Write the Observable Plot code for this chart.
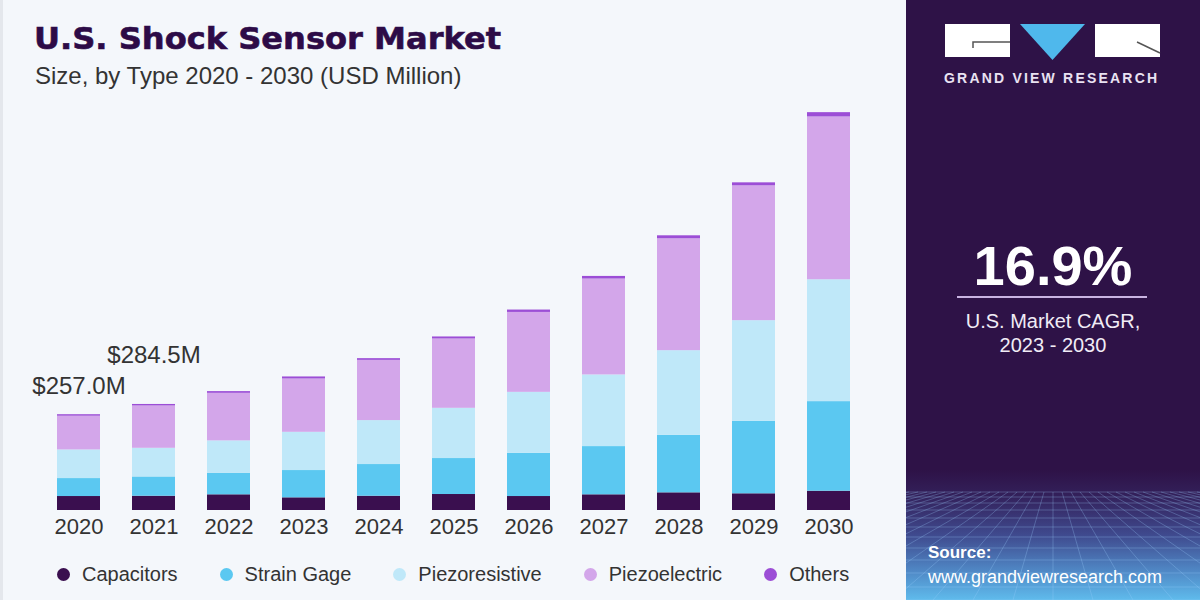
<!DOCTYPE html>
<html><head><meta charset="utf-8">
<script src="https://cdn.jsdelivr.net/npm/d3@7"></script>
<script src="https://cdn.jsdelivr.net/npm/@observablehq/plot@0.6"></script>
<style>
html,body{margin:0;padding:0;width:1200px;height:600px;overflow:hidden;background:#f4f7fb;font-family:"Liberation Sans",Arial,sans-serif;}
#left{position:absolute;left:0;top:0;width:906px;height:600px;background:#f4f7fb;border-left:3px solid #e4e7ec;box-sizing:border-box;}
#title{position:absolute;left:31px;top:20px;font-family:"DejaVu Sans",sans-serif;font-weight:bold;font-size:31px;color:#2d0b47;white-space:nowrap;transform-origin:left top;transform:scaleX(1.035);-webkit-text-stroke:0.6px #2d0b47;}
#subtitle{position:absolute;left:32px;top:62px;font-size:24px;color:#333;white-space:nowrap;}
#chart{position:absolute;left:0;top:90px;}
#legend{position:absolute;left:54px;top:563px;display:flex;align-items:center;font-size:20px;color:#333;white-space:nowrap;}
.item{display:flex;align-items:center;margin-right:42px;}
.dot{width:13px;height:13px;border-radius:50%;margin-right:12px;}
#right{position:absolute;left:906px;top:0;width:294px;height:600px;overflow:hidden;
 background:linear-gradient(to bottom,#2e1247 0px,#2e1247 470px,#33205a 495px,#3f4a8e 535px,#4f86c4 570px,#5fbbec 600px);}
#right .t{position:absolute;left:0;width:294px;text-align:center;color:#fff;white-space:nowrap;}
</style></head>
<body>
<div id="left">
  <div id="title">U.S. Shock Sensor Market</div>
  <div id="subtitle">Size, by Type 2020 - 2030 (USD Million)</div>
  <div id="chart"></div>
  <div id="legend"></div>
</div>
<div id="right">
  <svg id="deco" width="294" height="600" style="position:absolute;left:0;top:0"></svg>
  <div class="t" style="top:70px;left:38px;width:220px;font-size:14px;font-weight:bold;letter-spacing:2.2px;color:#e9e2f2;text-align:left">GRAND VIEW RESEARCH</div>
  <div class="t" style="top:233px;font-size:56px;font-weight:bold;">16.9%</div>
  <div style="position:absolute;left:51px;top:296px;width:190px;height:2px;background:#c9b3e2"></div>
  <div class="t" style="top:310px;font-size:20px;color:#f1ecf6">U.S. Market CAGR,</div>
  <div class="t" style="top:334px;font-size:20px;color:#f1ecf6">2023 - 2030</div>
  <div class="t" style="top:543px;left:22px;text-align:left;font-size:17px;font-weight:bold">Source:</div>
  <div class="t" style="top:567px;left:22px;text-align:left;font-size:18px">www.grandviewresearch.com</div>
</div>
<script>
const years = ["2020","2021","2022","2023","2024","2025","2026","2027","2028","2029","2030"];
const types = ["Capacitors","Strain Gage","Piezoresistive","Piezoelectric","Others"];
const colors = ["#3a0f4f","#5bc8f1","#bfe8f9","#d3a6ea","#9c4ed6"];
const capacitors     = [37.5, 38.3, 42.1, 34.0, 38.3, 42.9, 37.5, 42.1, 47.4, 44.8, 51.7];
const strainGage     = [48.2, 51.7, 57.9, 73.2, 85.0, 96.5, 116.0, 129.4, 154.4, 194.6, 240.4];
const piezoresistive = [76.8, 76.9, 86.8, 102.6, 117.9, 134.8, 163.5, 192.2, 227.0, 269.9, 327.0];
const piezoelectric  = [90.5, 113.6, 127.6, 143.1, 161.6, 186.0, 214.4, 257.3, 300.2, 361.8, 436.8];
const others         = [4.0, 4.0, 4.6, 5.4, 4.6, 5.4, 6.4, 7.0, 8.0, 8.0, 11.5];
const labelYears = ["2020","2021"];
const labelTexts = ["$257.0M","$284.5M"];

const series = [capacitors, strainGage, piezoresistive, piezoelectric, others];
const rows = [];
years.forEach((yr, i) => types.forEach((t, j) => rows.push({year: yr, type: t, value: series[j][i]})));
const totals = years.map((yr, i) => series.reduce((s, a) => s + a[i], 0));
const labels = labelYears.map((yr, k) => ({year: yr, total: totals[years.indexOf(yr)], text: labelTexts[k]}));

const chart = Plot.plot({
  width: 903, height: 450,
  marginTop: 10, marginBottom: 30, marginLeft: 20, marginRight: 23,
  style: {background: "transparent", fontFamily: "Liberation Sans, Arial, sans-serif", color: "#333", overflow: "visible"},
  x: {domain: years, padding: 0.43, axis: null},
  y: {domain: [0, 1100], axis: null},
  color: {domain: types, range: colors},
  marks: [
    Plot.barY(rows, {x: "year", y: "value", fill: "type"}),
    Plot.axisX({tickSize: 0, tickPadding: 8, fontSize: 22, label: null, fill: "#333"}),
    Plot.text([labels[0]], {x: "year", y: "total", text: "text", dy: -28, fontSize: 24, fill: "#333"}),
    Plot.text([labels[1]], {x: "year", y: "total", text: "text", dy: -49, fontSize: 24, fill: "#333"})
  ]
});
document.getElementById("chart").appendChild(chart);

const legend = document.getElementById("legend");
types.forEach((t, j) => {
  const it = document.createElement("div"); it.className = "item";
  const d = document.createElement("div"); d.className = "dot"; d.style.background = colors[j];
  const s = document.createElement("span"); s.textContent = t;
  it.appendChild(d); it.appendChild(s); legend.appendChild(it);
});

// decorative panel: logo and perspective grid
const svg = d3.select("#deco");
const g = svg.append("g").attr("stroke", "#9fd0ff").attr("stroke-opacity", 0.28).attr("stroke-width", 1);
const hy = [492, 497, 503, 510, 518, 527, 537, 548, 560, 573, 587, 600];
hy.forEach(y => g.append("line").attr("x1", 0).attr("x2", 294).attr("y1", y).attr("y2", y));
for (let k = -20; k <= 20; k++) {
  g.append("line").attr("x1", 147 + k * 9).attr("y1", 492).attr("x2", 147 + k * 40).attr("y2", 600);
}
svg.append("rect").attr("x", 39).attr("y", 24).attr("width", 65).attr("height", 33).attr("fill", "#fff");
svg.append("rect").attr("x", 189).attr("y", 24).attr("width", 65).attr("height", 33).attr("fill", "#fff");
svg.append("path").attr("d", "M114,24 L179,24 L146.5,60 Z").attr("fill", "#4fb8ec");
svg.append("path").attr("d", "M67,48 L67,42 L104,42").attr("fill", "none").attr("stroke", "#555").attr("stroke-width", 1.5);
svg.append("path").attr("d", "M231,42 L254,53").attr("fill", "none").attr("stroke", "#555").attr("stroke-width", 1.5);
</script>
</body></html>
